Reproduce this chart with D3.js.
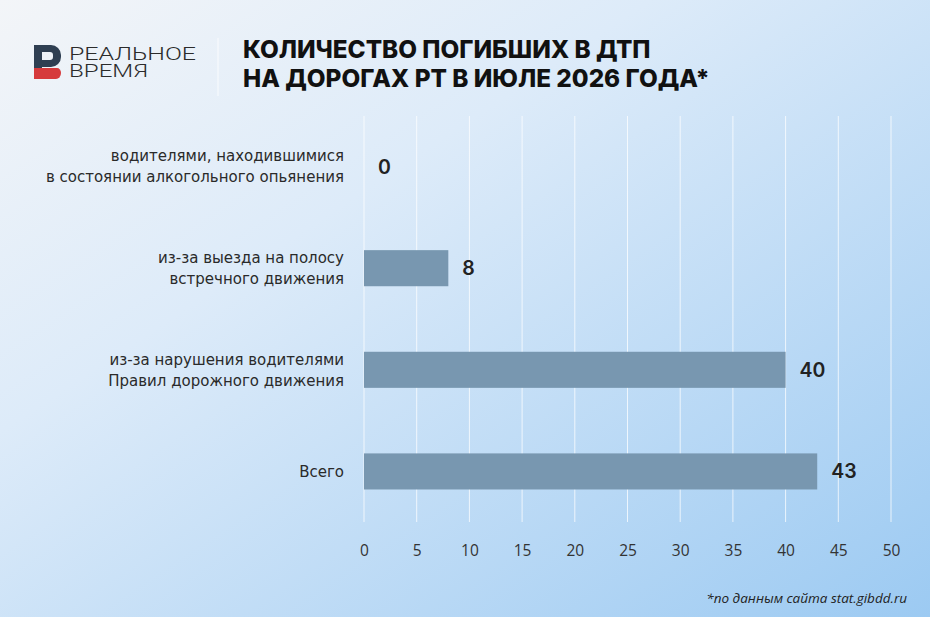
<!DOCTYPE html>
<html><head><meta charset="utf-8">
<script src="https://cdn.jsdelivr.net/npm/d3@7"></script>
<style>html,body{margin:0;padding:0;overflow:hidden;}svg{display:block;}</style>
</head><body>
<script>
const categories = [
  ["водителями, находившимися", "в состоянии алкогольного опьянения"],
  ["из-за выезда на полосу", "встречного движения"],
  ["из-за нарушения водителями", "Правил дорожного движения"],
  ["Всего"]
];
const values = [0, 8, 40, 43];
const tickValues = [0, 5, 10, 15, 20, 25, 30, 35, 40, 45, 50];
const titleLines = ["КОЛИЧЕСТВО ПОГИБШИХ В ДТП", "НА ДОРОГАХ РТ В ИЮЛЕ 2026 ГОДА*"];
const logoLines = ["РЕАЛЬНОЕ", "ВРЕМЯ"];
const footnote = "*по данным сайта stat.gibdd.ru";

const W = 930, H = 617;
const svg = d3.select("body").append("svg").attr("width", W).attr("height", H);
const defs = svg.append("defs");
const grad = defs.append("linearGradient").attr("id","bg")
  .attr("x1","0").attr("y1","0").attr("x2","1").attr("y2","1");
grad.append("stop").attr("offset","0").attr("stop-color","#f3f5f8");
grad.append("stop").attr("offset","0.35").attr("stop-color","#ddebf9");
grad.append("stop").attr("offset","1").attr("stop-color","#9ccaf2");
svg.append("rect").attr("width",W).attr("height",H).attr("fill","url(#bg)");

// logo
const logo = svg.append("g");
logo.append("path").attr("fill","#2f3f52")
  .attr("d","M34,45 H51 A10,10 0 0 1 61,55 V57 A10,10 0 0 1 51,67 H42 V68 H34 Z M42,52 V60 H50 A3,3 0 0 0 53,57 V55 A3,3 0 0 0 50,52 Z");
logo.append("path").attr("fill","#d63a3c")
  .attr("d","M34,68 H57 A4,5 0 0 1 61,73 A5,6 0 0 1 56,79 H34 Z");
const lt = logo.append("text")
  .attr("font-family","Roboto, sans-serif").attr("font-weight",300)
  .attr("font-size",17.5).attr("fill","#2b2b2b");
lt.selectAll("tspan").data(logoLines).join("tspan")
  .attr("x",69).attr("y",(d,i)=>60+i*17)
  .attr("textLength",(d,i)=>i===0?127:79).attr("lengthAdjust","spacingAndGlyphs")
  .text(d=>d);
svg.append("line").attr("x1",218).attr("x2",218).attr("y1",38).attr("y2",96)
  .attr("stroke","#ffffff").attr("stroke-opacity",0.8);

svg.selectAll("text.title").data(titleLines).join("text")
  .attr("x",243).attr("y",(d,i)=>58+i*28.5)
  .attr("font-family","Inter, 'Noto Sans', sans-serif").attr("font-weight",800)
  .attr("font-size",24.3).attr("fill","#111")
  .text(d=>d);

// chart
const x = d3.scaleLinear().domain([0,50]).range([364,891]);
const y = d3.scaleBand().domain(d3.range(values.length)).range([116,522]).paddingInner(0.645).paddingOuter(0.32);

svg.append("g").selectAll("line").data(tickValues).join("line")
  .attr("x1",d=>x(d)).attr("x2",d=>x(d)).attr("y1",116).attr("y2",522)
  .attr("stroke","#ffffff").attr("stroke-opacity",0.75).attr("stroke-width",1);

svg.append("g").selectAll("rect").data(values).join("rect")
  .attr("x",x(0)).attr("y",(d,i)=>y(i)).attr("width",d=>x(d)-x(0)).attr("height",y.bandwidth())
  .attr("fill","#7897b0");

svg.append("g").selectAll("text").data(values).join("text")
  .attr("x",d=>x(d)+14).attr("y",(d,i)=>y(i)+y.bandwidth()/2)
  .attr("dy","0.36em")
  .attr("font-family","Inter, 'Noto Sans', sans-serif").attr("font-weight",600)
  .attr("font-size",19.5).attr("fill","#222")
  .text(d=>d);

const lab = svg.append("g").selectAll("text").data(categories).join("text")
  .attr("text-anchor","end")
  .attr("font-family","'DejaVu Sans', sans-serif").attr("font-size",15).attr("fill","#2a2a2a");
lab.each(function(lines,i){
  const cy = y(i)+y.bandwidth()/2;
  const n = lines.length, lh = 21;
  d3.select(this).selectAll("tspan").data(lines).join("tspan")
    .attr("x",344).attr("y",(d,j)=>cy+(j-(n-1)/2)*lh).attr("dy","0.35em").text(d=>d);
});

const axis = d3.axisBottom(x).tickValues(tickValues).tickSize(0).tickPadding(0);
const ag = svg.append("g").attr("transform","translate(0,551)").call(axis);
ag.select(".domain").remove();
ag.selectAll("text").attr("font-family","'Open Sans', sans-serif").attr("font-size",15.5)
  .attr("fill","#333").attr("dy","0.35em").attr("y",0);

svg.append("text").attr("x",907).attr("y",603).attr("text-anchor","end")
  .attr("font-family","'Open Sans', sans-serif").attr("font-style","italic")
  .attr("font-size",13.5).attr("fill","#222").text(footnote);
</script>
</body></html>
